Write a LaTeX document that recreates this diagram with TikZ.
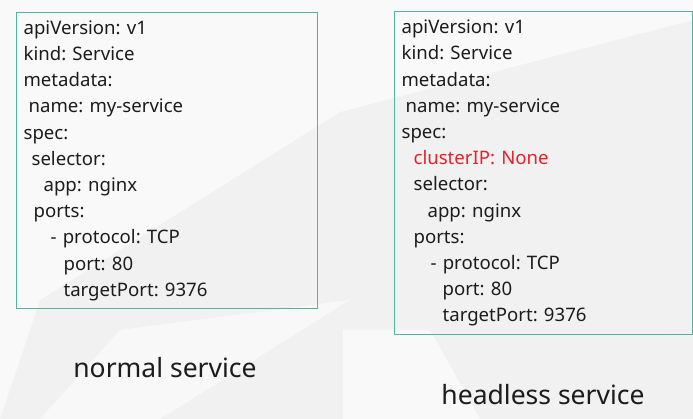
\documentclass[tikz,border=0pt]{standalone}
\usepackage{fontspec}
\setmainfont{Noto Sans}
\usetikzlibrary{positioning}
\definecolor{boxteal}{RGB}{80,180,160}
\definecolor{keyred}{RGB}{232,32,42}
\definecolor{slidegray}{RGB}{241,241,241}
\definecolor{inkdark}{RGB}{28,28,28}
\newcommand{\yind}[1]{\hspace*{#1pt}}
\frenchspacing

\begin{document}
\begin{tikzpicture}[x=1pt, y=-1pt,
    yamlbox/.style={draw=boxteal, line width=1.2pt, anchor=north west, align=left,
      inner xsep=7pt, inner ysep=0pt, font=\fontsize{18.6}{26.2}\selectfont, text=inkdark},
    caption/.style={font=\fontsize{26.5}{30}\selectfont, text=inkdark}]
    \useasboundingbox (0,0) rectangle (693,419);
    % slide background
    \fill[slidegray] (0,0) rectangle (693,419);
    \fill[white, opacity=0.6] (0,0) -- (693,0) -- (693,20) -- (340,112) -- (40,300) -- (0,419) -- cycle;
    \fill[white, opacity=0.5] (40,419) -- (120,330) -- (350,300) -- (160,419) -- cycle;
    \fill[white, opacity=0.6] (343,330) -- (430,330) -- (480,419) -- (343,419) -- cycle;

    \node[yamlbox, text width=287pt, minimum height=296pt] (normal) at (16,12) {%
      apiVersion: v1\\
      kind: Service\\
      metadata:\\
      \yind{5}name: my-service\\
      spec:\\
      \yind{8}selector:\\
      \yind{20}app: nginx\\
      \yind{10}ports:\\
      \yind{27}- protocol: TCP\\
      \yind{40}port: 80\\
      \yind{40}targetPort: 9376};
    \node[yamlbox, text width=284pt, minimum height=323pt] (headless) at (394,11) {%
      apiVersion: v1\\
      kind: Service\\
      metadata:\\
      \yind{4}name: my-service\\
      spec:\\
      \yind{12}\textcolor{keyred}{clusterIP: None}\\
      \yind{12}selector:\\
      \yind{26}app: nginx\\
      \yind{12}ports:\\
      \yind{29}- protocol: TCP\\
      \yind{41}port: 80\\
      \yind{41}targetPort: 9376};

    \node[caption] (normallabel) at (165,368) {normal service};
    \node[caption] (headlesslabel) at (543,395) {headless service};
\end{tikzpicture}
\end{document}
